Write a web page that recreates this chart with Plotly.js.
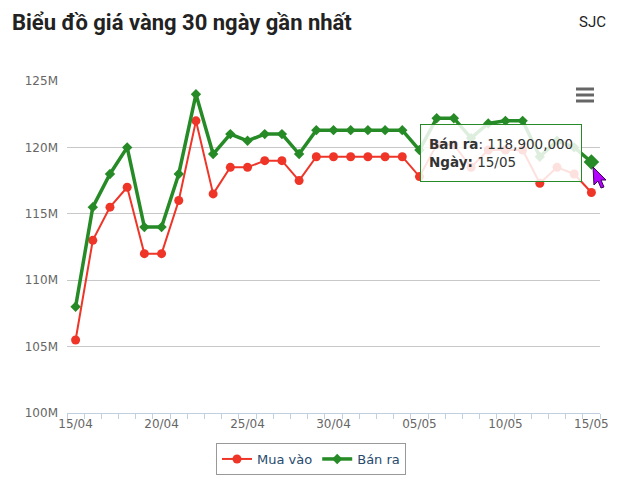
<!DOCTYPE html>
<html>
<head>
<meta charset="utf-8">
<script src="https://cdn.plot.ly/plotly-3.0.1.min.js"></script>
<style>
  html, body { margin: 0; padding: 0; background: #fff; }
  #chart { width: 640px; height: 500px; }
</style>
</head>
<body>
<div id="chart"></div>
<script>
// Dates shown on the x axis (one per day, 15/04 -> 15/05)
const dates = [
  '15/04', '16/04', '17/04', '18/04', '19/04', '20/04', '21/04', '22/04', '23/04', '24/04',
  '25/04', '26/04', '27/04', '28/04', '29/04', '30/04', '01/05', '02/05', '03/05', '04/05',
  '05/05', '06/05', '07/05', '08/05', '09/05', '10/05', '11/05', '12/05', '13/05', '14/05', '15/05'
];

// Buy price (Mua vào), VND
const buyPrices = [
  105500000, 113000000, 115500000, 117000000, 112000000, 112000000, 116000000, 122000000,
  116500000, 118500000, 118500000, 119000000, 119000000, 117500000, 119300000, 119300000,
  119300000, 119300000, 119300000, 119300000, 117800000, 120200000, 120200000, 118500000,
  119800000, 119800000, 119800000, 117300000, 118500000, 118000000, 116600000
];

// Sell price (Bán ra), VND
const sellPrices = [
  108000000, 115500000, 118000000, 120000000, 114000000, 114000000, 118000000, 124000000,
  119500000, 121000000, 120500000, 121000000, 121000000, 119500000, 121300000, 121300000,
  121300000, 121300000, 121300000, 121300000, 119800000, 122200000, 122200000, 120700000,
  121800000, 122000000, 122000000, 119300000, 120500000, 120000000, 118900000
];

// Y axis ticks
const yTickVals = [100000000, 105000000, 110000000, 115000000, 120000000, 125000000];
const yTickText = ['100M', '105M', '110M', '115M', '120M', '125M'];

const RED = '#ee3528';
const GREEN = '#268b26';

// plot area in pixels, used to place the decorations (menu icon, cursor)
const box = { l: 67, r: 600, t: 81, b: 413 };
const px = (X) => (X - box.l) / (box.r - box.l);
const py = (Y) => (box.b - Y) / (box.b - box.t);

const hovered = dates.length - 1;

const traces = [
  {
    x: dates, y: buyPrices, name: 'Mua vào',
    type: 'scatter', mode: 'lines+markers',
    line: { color: RED, width: 2 },
    marker: { color: RED, size: 9, symbol: 'circle' },
    hoverinfo: 'skip'
  },
  {
    x: dates, y: sellPrices, name: 'Bán ra',
    type: 'scatter', mode: 'lines+markers',
    line: { color: GREEN, width: 3.5 },
    marker: { color: GREEN, size: 8, symbol: 'diamond' },
    hoverinfo: 'skip'
  },
  // hovered point, drawn larger
  {
    x: [dates[hovered]], y: [sellPrices[hovered]],
    type: 'scatter', mode: 'markers', showlegend: false,
    marker: { color: GREEN, size: 12, symbol: 'diamond' },
    hoverinfo: 'skip'
  }
];

// export menu icon (three bars)
const shapes = [89, 95, 101].map(Y => ({
  type: 'line', xref: 'paper', yref: 'paper',
  x0: px(576), x1: px(594), y0: py(Y), y1: py(Y),
  line: { color: '#666', width: 3 }
}));

// mouse cursor
const cursorPts = [[593, 167], [594, 185], [598, 181], [601, 188], [604, 187], [601, 180], [606, 180]];
shapes.push({
  type: 'path', xref: 'paper', yref: 'paper',
  path: 'M' + cursorPts.map(p => px(p[0]).toFixed(4) + ',' + py(p[1]).toFixed(4)).join(' L') + ' Z',
  fillcolor: '#b400ff', line: { color: '#3a0055', width: 1 }
});

const tooltipText = '<b>Bán ra</b>: ' + sellPrices[hovered].toLocaleString('en-US') +
  '<br><b>Ngày:</b> ' + dates[hovered];

const layout = {
  width: 640, height: 500,
  margin: { l: box.l, r: 640 - box.r, t: box.t, b: 500 - box.b, pad: 0 },
  paper_bgcolor: '#fff', plot_bgcolor: '#fff',
  font: { family: 'DejaVu Sans', color: '#666' },
  title: {
    text: 'Biểu đồ giá vàng 30 ngày gần nhất',
    xref: 'container', yref: 'container',
    x: 12 / 640, xanchor: 'left', y: 1 - 22 / 500, yanchor: 'middle',
    font: { family: 'Roboto', size: 22, weight: 700, color: '#222' }
  },
  showlegend: true,
  legend: {
    orientation: 'h', x: px(311), xanchor: 'center', y: py(443), yanchor: 'top',
    bordercolor: '#999', borderwidth: 1, bgcolor: '#fff',
    font: { family: 'DejaVu Sans', size: 13, color: '#274b6d' }
  },
  xaxis: {
    type: 'category', range: [-0.5, dates.length - 0.5],
    tickvals: dates,
    ticktext: dates.map((d, i) => (i % 5 === 0 ? d : '')),
    tickangle: 0,
    tickson: 'boundaries',
    ticks: 'outside', ticklen: 5, tickcolor: '#c0d0e0', tickwidth: 1,
    showline: true, linecolor: '#c0d0e0', linewidth: 1,
    showgrid: false, zeroline: false,
    tickfont: { family: 'DejaVu Sans', size: 12, color: '#666' },
    fixedrange: true
  },
  yaxis: {
    range: [100000000, 125000000],
    tickvals: yTickVals, ticktext: yTickText,
    showgrid: true, gridcolor: '#c8c8c8', gridwidth: 1,
    zeroline: false, showline: false, ticks: '',
    ticklabelstandoff: 8,
    tickfont: { family: 'DejaVu Sans', size: 12, color: '#666' },
    fixedrange: true
  },
  annotations: [
    {
      text: 'SJC', xref: 'paper', yref: 'paper',
      x: px(608), xanchor: 'right', y: py(22), yanchor: 'middle',
      showarrow: false, font: { family: 'Roboto', size: 15, color: '#222' }
    },
    {
      text: tooltipText, xref: 'paper', yref: 'paper',
      x: px(420), xanchor: 'left', y: py(124), yanchor: 'top',
      showarrow: false, align: 'left', valign: 'middle',
      height: 40,
      bgcolor: 'rgba(255,255,255,0.85)', bordercolor: GREEN, borderwidth: 1, borderpad: 8,
      font: { family: 'DejaVu Sans', size: 13.5, color: '#333' }
    }
  ],
  shapes: shapes
};

Plotly.newPlot('chart', traces, layout, { staticPlot: true, displayModeBar: false });
</script>
</body>
</html>
